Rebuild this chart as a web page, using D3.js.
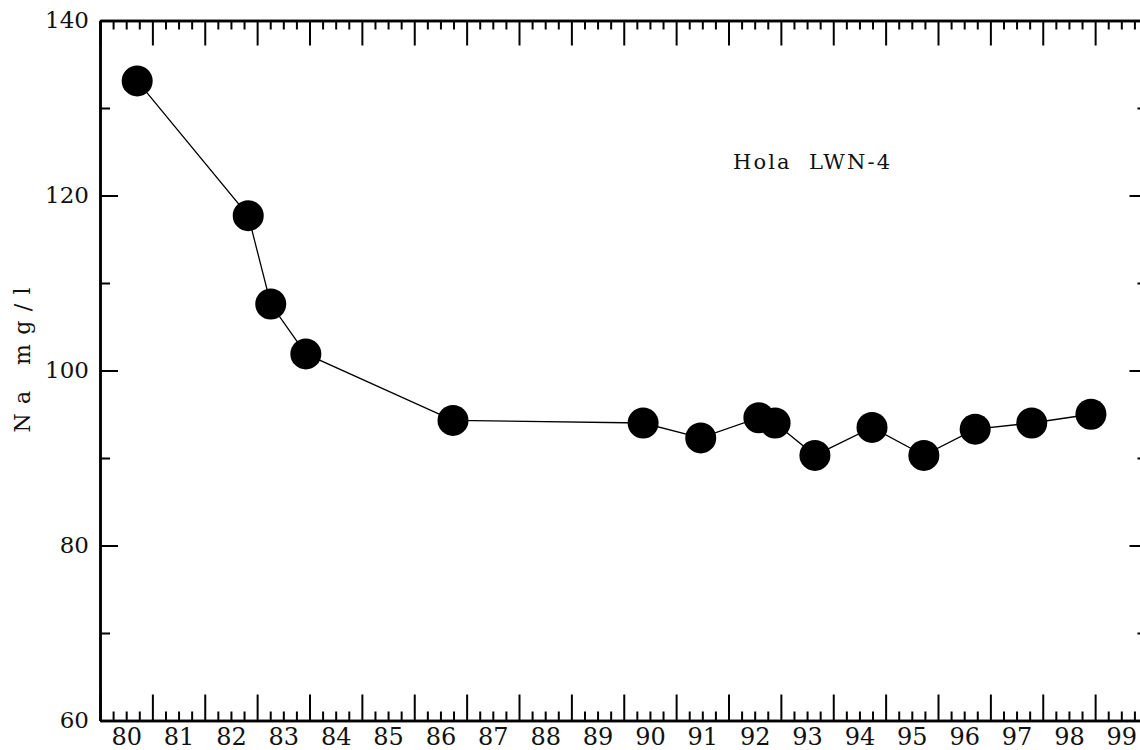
<!DOCTYPE html>
<html>
<head>
<meta charset="utf-8">
<script src="https://cdn.jsdelivr.net/npm/d3@7"></script>
<style>
	body { margin: 0; background: #fff; }
	svg { display: block; }
	text { font-family: 'DejaVu Serif', serif; fill: #111; }
	.axis path, .axis line { stroke: #000; }
</style>
</head>
<body>
<div id="chart"></div>
<script>
// sample dates (decimal year) and sodium concentration
const years = [1980.71, 1982.83, 1983.26, 1983.93, 1986.74, 1990.37, 1991.47, 1992.58,
	1992.89, 1993.65, 1994.74, 1995.73, 1996.71, 1997.79, 1998.92];
const naValues = [133.1, 117.7, 107.6, 101.9, 94.3, 94.0, 92.3, 94.6,
	94.0, 90.3, 93.5, 90.3, 93.3, 94.0, 95.0];
const xLabels = ['80', '81', '82', '83', '84', '85', '86', '87', '88', '89',
	'90', '91', '92', '93', '94', '95', '96', '97', '98', '99'];
const yLabels = [60, 80, 100, 120, 140];
const yMinor = [70, 90, 110, 130];
const title = 'Hola  LWN-4';
const yTitle = 'Na mg/l';

(() => {
	const width = 1140;
	const height = 750;
	const svg = d3.select('#chart').append('svg')
		.attr('width', width)
		.attr('height', height);

	const x = d3.scaleLinear()
		.domain([1980, 2000])
		.range([100, 1147.5]);
	const y = d3.scaleLinear()
		.domain([60, 140])
		.range([720.5, 20.5]);

	const yearTicks = d3.range(1980, 2001);
	const quarterTicks = d3.range(1980, 2000, 0.25).filter(d => d % 1 !== 0);
	const midYears = xLabels.map((d, i) => 1980.5 + i);

	const noLabel = () => '';
	const styleAxis = (g, w) => {
		g.attr('class', 'axis');
		g.select('.domain').attr('stroke-width', w);
		g.selectAll('.tick line').attr('stroke-width', 2);
	};

	// bottom axis: long ticks at year boundaries, short ticks at quarters
	svg.append('g')
		.attr('transform', `translate(0, ${y(60)})`)
		.call(d3.axisTop(x).tickValues(quarterTicks).tickSize(9).tickSizeOuter(0).tickFormat(noLabel))
		.call(g => styleAxis(g, 2.5));
	svg.append('g')
		.attr('transform', `translate(0, ${y(60)})`)
		.call(d3.axisTop(x).tickValues(yearTicks).tickSize(26).tickSizeOuter(0).tickFormat(noLabel))
		.call(g => styleAxis(g, 2.5));

	// top axis, ticks pointing down
	svg.append('g')
		.attr('transform', `translate(0, ${y(140)})`)
		.call(d3.axisBottom(x).tickValues(quarterTicks).tickSize(9).tickSizeOuter(0).tickFormat(noLabel))
		.call(g => styleAxis(g, 2.5));
	svg.append('g')
		.attr('transform', `translate(0, ${y(140)})`)
		.call(d3.axisBottom(x).tickValues(yearTicks).tickSize(25).tickSizeOuter(0).tickFormat(noLabel))
		.call(g => styleAxis(g, 2.5));

	// year labels centred in each year
	svg.append('g')
		.attr('transform', `translate(0, ${y(60)})`)
		.call(d3.axisBottom(x).tickValues(midYears).tickSize(0).tickPadding(7)
			.tickFormat((d, i) => xLabels[i]))
		.call(g => g.select('.domain').remove())
		.call(g => g.selectAll('text').attr('font-size', 24).attr('font-family', null));

	// left axis
	svg.append('g')
		.attr('transform', `translate(${x(1980)}, 0)`)
		.call(d3.axisRight(y).tickValues(yMinor).tickSize(10).tickSizeOuter(0).tickFormat(noLabel))
		.call(g => styleAxis(g, 2.5));
	svg.append('g')
		.attr('transform', `translate(${x(1980)}, 0)`)
		.call(d3.axisRight(y).tickValues(yLabels).tickSize(18).tickSizeOuter(0).tickFormat(noLabel))
		.call(g => styleAxis(g, 2.5));
	svg.append('g')
		.attr('transform', `translate(${x(1980)}, 0)`)
		.call(d3.axisLeft(y).tickValues(yLabels).tickSize(0).tickPadding(11))
		.call(g => g.select('.domain').remove())
		.call(g => g.selectAll('text').attr('font-size', 23).attr('font-family', null));

	// right axis (mostly off the page)
	svg.append('g')
		.attr('transform', `translate(${x(2000)}, 0)`)
		.call(d3.axisLeft(y).tickValues(yMinor).tickSize(10).tickSizeOuter(0).tickFormat(noLabel))
		.call(g => styleAxis(g, 2.5));
	svg.append('g')
		.attr('transform', `translate(${x(2000)}, 0)`)
		.call(d3.axisLeft(y).tickValues(yLabels).tickSize(18).tickSizeOuter(0).tickFormat(noLabel))
		.call(g => styleAxis(g, 2.5));

	// axis title
	svg.append('text')
		.attr('transform', `translate(30, 360) rotate(-90)`)
		.attr('text-anchor', 'middle')
		.attr('font-size', 22)
		.attr('textLength', 145)
		.attr('lengthAdjust', 'spacing')
		.text(yTitle);

	// well name
	svg.append('text')
		.attr('x', 733)
		.attr('y', 169)
		.attr('font-size', 21)
		.attr('textLength', 157)
		.attr('lengthAdjust', 'spacing')
		.attr('xml:space', 'preserve')
		.text(title);

	// series
	const points = years.map((d, i) => [d, naValues[i]]);
	svg.append('path')
		.datum(points)
		.attr('fill', 'none')
		.attr('stroke', '#000')
		.attr('stroke-width', 1.3)
		.attr('d', d3.line().x(d => x(d[0])).y(d => y(d[1])));
	svg.selectAll('.dot')
		.data(points)
		.enter().append('circle')
			.attr('class', 'dot')
			.attr('cx', d => x(d[0]))
			.attr('cy', d => y(d[1]))
			.attr('r', 15.5)
			.attr('fill', '#000');
})();
</script>
</body>
</html>
